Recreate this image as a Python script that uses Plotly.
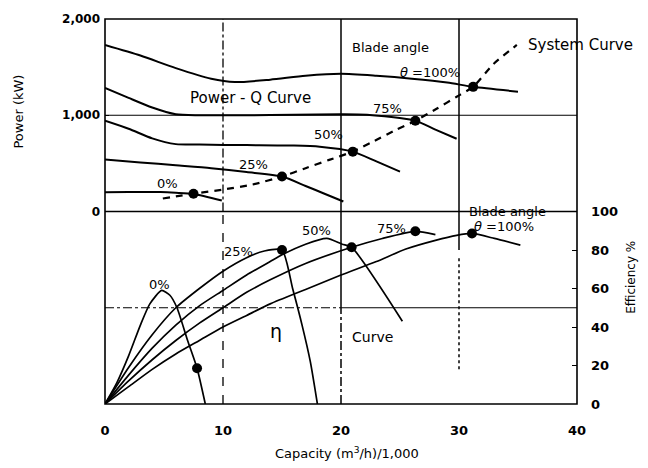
import plotly.graph_objects as go

# ---------------- data ----------------
# Power - Q curves (kW) by blade angle
p100_x = [0, 3, 6, 9, 11, 14, 17, 20, 23, 26, 29, 31.2, 35]
p100_y = [1730, 1620, 1490, 1380, 1345, 1370, 1410, 1430, 1410, 1380, 1340, 1295, 1245]
p75_x = [0, 2, 4, 6, 8, 12, 16, 20, 22.2, 26.3, 28, 29.8]
p75_y = [1285, 1180, 1080, 1010, 1000, 1000, 1005, 1010, 1005, 943, 850, 756]
p50_x = [0, 2, 4, 6, 8, 12, 16, 18.2, 21, 23, 25]
p50_y = [943, 860, 760, 700, 695, 690, 685, 673, 622, 520, 415]
p25_x = [0, 3, 6, 9, 12, 15, 17, 18.5, 20.2]
p25_y = [540, 510, 480, 450, 410, 363, 265, 190, 104]
p0_x = [0, 2, 4.7, 6, 7.5, 9.9]
p0_y = [200, 202, 202, 195, 182, 114]

# System curve (kW)
sys_x = [4.9, 7.5, 10, 12.5, 15, 17, 19, 21, 22.7, 24.7, 26.3, 28.1, 29.8, 31.2, 32.9, 34.9]
sys_y = [135, 185, 228, 280, 363, 450, 536, 622, 725, 850, 943, 1067, 1192, 1295, 1530, 1730]

# Operating points on power curves
pdot_x = [7.5, 15, 21, 26.3, 31.2]
pdot_y = [185, 363, 622, 943, 1295]

# Efficiency curves (%)
e0_x = [0, 1, 2, 3, 3.8, 4.8, 5.5, 6.1, 7.0, 7.8, 8.5]
e0_y = [0, 11, 25, 41, 52, 59, 56.5, 50, 33, 18.6, 0]
e25_x = [0, 2, 4, 6, 8, 10, 12, 13.5, 15, 15.9, 16.7, 17.4, 18.0]
e25_y = [0, 19, 36, 50, 60, 69, 76, 79.5, 80, 60, 41, 22, 0]
e50_x = [0, 2, 4, 6, 8, 10, 12, 14, 15, 17, 18.8, 20.1, 20.9, 25.2]
e50_y = [0, 15, 29, 41, 51, 59, 67, 74, 77.5, 83, 86, 83, 81.4, 43]
e75_x = [0, 2, 4, 6, 8, 10, 12, 14, 17, 20.9, 23.5, 26.3, 28]
e75_y = [0, 12, 23, 33, 42, 50, 58, 64.5, 73, 81.4, 86, 89.7, 88]
e100_x = [0, 2, 4, 6, 8, 10, 12, 14, 17, 20, 23, 25.5, 28, 29.8, 31.1, 33, 35.2]
e100_y = [0, 9, 18, 26, 33, 40, 46, 52, 59.5, 67, 74, 80.5, 85, 87.6, 88.6, 86, 82.5]

# Operating points on efficiency curves
edot_x = [7.8, 15, 20.9, 26.3, 31.1]
edot_y = [18.6, 80, 81.4, 89.7, 88.6]

x_ticks = [0, 10, 20, 30, 40]
p_ticks = [0, 1000, 2000]
p_ticktext = ["0", "1,000", "2,000"]
e_ticks = [0, 20, 40, 60, 80, 100]

# ---------------- figure ----------------
FONT = "DejaVu Sans"
fig = go.Figure()

line_style = dict(color="black", width=2, shape="spline", smoothing=0.7)

for xs, ys in [(p100_x, p100_y), (p75_x, p75_y), (p50_x, p50_y), (p25_x, p25_y), (p0_x, p0_y)]:
    fig.add_trace(go.Scatter(x=xs, y=ys, mode="lines", line=line_style,
                             xaxis="x", yaxis="y", showlegend=False, hoverinfo="skip"))

fig.add_trace(go.Scatter(x=sys_x, y=sys_y, mode="lines",
                         line=dict(color="black", width=2.2, dash="7px,6px", shape="spline", smoothing=0.6),
                         xaxis="x", yaxis="y", showlegend=False, hoverinfo="skip"))
fig.add_trace(go.Scatter(x=pdot_x, y=pdot_y, mode="markers",
                         marker=dict(color="black", size=10),
                         xaxis="x", yaxis="y", showlegend=False, hoverinfo="skip"))

eff_style = dict(color="black", width=1.7, shape="spline", smoothing=0.6)
for xs, ys in [(e0_x, e0_y), (e25_x, e25_y), (e50_x, e50_y), (e75_x, e75_y), (e100_x, e100_y)]:
    fig.add_trace(go.Scatter(x=xs, y=ys, mode="lines", line=eff_style,
                             xaxis="x", yaxis="y2", showlegend=False, hoverinfo="skip"))
fig.add_trace(go.Scatter(x=edot_x, y=edot_y, mode="markers",
                         marker=dict(color="black", size=10),
                         xaxis="x", yaxis="y2", showlegend=False, hoverinfo="skip"))

# ---------------- reference lines ----------------
shapes = []
def seg(x0, y0, x1, y1, yref, dash="solid", width=1.2):
    shapes.append(dict(type="line", xref="x", yref=yref, x0=x0, y0=y0, x1=x1, y1=y1,
                       line=dict(color="black", width=width, dash=dash), layer="below"))

seg(0, 1000, 40, 1000, "y", "solid", 1.2)
seg(0, 50, 20, 50, "y2", "dashdot", 1.2)
seg(20, 50, 40, 50, "y2", "solid", 1.2)
seg(10, 0, 10, 2000, "y", "dashdot", 1.3)
seg(10, 0, 10, 100, "y2", "dash", 1.3)
seg(20, 0, 20, 2000, "y", "solid", 1.5)
seg(20, 50, 20, 100, "y2", "solid", 1.5)
seg(20, 0, 20, 50, "y2", "dashdot", 1.5)
seg(30, 0, 30, 2000, "y", "solid", 1.5)
seg(30, 80, 30, 100, "y2", "solid", 1.5)
seg(30, 18, 30, 77, "y2", "dot", 1.5)
shapes.append(dict(type="line", xref="paper", yref="paper", x0=0, x1=1, y0=0.5, y1=0.5,
                   line=dict(color="black", width=1.6)))
shapes.append(dict(type="rect", xref="paper", yref="paper", x0=0, x1=1, y0=0, y1=1,
                   line=dict(color="black", width=1.6)))

# ---------------- annotations ----------------
ann = []
def txt(x, y, text, yref, size=14, xanchor="center"):
    ann.append(dict(x=x, y=y, xref="x", yref=yref, text=text, showarrow=False,
                    xanchor=xanchor, yanchor="middle",
                    font=dict(family=FONT, size=size, color="black")))

txt(24.2, 1700, "Blade angle", "y", 13)
txt(27.5, 1440, "<i>θ</i> =100%", "y", 13)
txt(12.3, 1175, "Power - Q Curve", "y", 15)
txt(23.9, 1075, "75%", "y", 13)
txt(18.9, 800, "50%", "y", 13)
txt(12.6, 490, "25%", "y", 13)
txt(5.3, 290, "0%", "y", 13)
txt(35.7, 1735, "System Curve", "y", 15, xanchor="left")

txt(34.1, 0.501, "Blade angle", "paper", 13)
txt(33.8, 92, "<i>θ</i> =100%", "y2", 13)
txt(24.3, 91, "75%", "y2", 13)
txt(17.9, 90, "50%", "y2", 13)
txt(11.3, 79, "25%", "y2", 13)
txt(4.6, 62, "0%", "y2", 13)
txt(14.5, 38, "η", "y2", 19)
txt(22.7, 35, "Curve", "y2", 14)

ann.append(dict(x=-0.184, y=0.76, xref="paper", yref="paper", text="Power (kW)",
                xanchor="center", yanchor="middle",
                textangle=-90, showarrow=False, font=dict(family=FONT, size=13, color="black")))
ann.append(dict(x=1.114, y=0.33, xref="paper", yref="paper", text="Efficiency %",
                xanchor="center", yanchor="middle",
                textangle=-90, showarrow=False, font=dict(family=FONT, size=12, color="black")))
ann.append(dict(x=0.513, y=-0.128, xref="paper", yref="paper",
                text="Capacity (m<sup>3</sup>/h)/1,000", xanchor="center", yanchor="middle",
                showarrow=False, font=dict(family=FONT, size=13, color="black")))

tickfont = dict(family=FONT, size=13, color="black", weight="bold")
tickfont_left = dict(family=FONT, size=12, color="black", weight="bold")

fig.update_layout(
    width=648, height=468,
    margin=dict(l=105, r=71, t=17, b=64),
    paper_bgcolor="white", plot_bgcolor="white",
    showlegend=False,
    shapes=shapes, annotations=ann,
    xaxis=dict(range=[0, 40], tickvals=x_ticks, showgrid=False, zeroline=False,
               showline=False, ticks="", anchor="y2", tickfont=tickfont,
               ticklabelstandoff=17),
    yaxis=dict(domain=[0.5, 1], range=[0, 2000], tickvals=p_ticks, ticktext=p_ticktext,
               showgrid=False, zeroline=False, showline=False, ticks="inside", ticklen=4,
               tickcolor="black", anchor="x", side="left", tickfont=tickfont_left,
               ticklabelstandoff=4),
    yaxis2=dict(domain=[0, 0.5], range=[0, 100], tickvals=e_ticks,
                showgrid=False, zeroline=False, showline=False, ticks="inside", ticklen=5,
                tickcolor="black", anchor="x", side="right", tickfont=tickfont,
                ticklabelstandoff=13),
)

fig.write_html("out.html")
